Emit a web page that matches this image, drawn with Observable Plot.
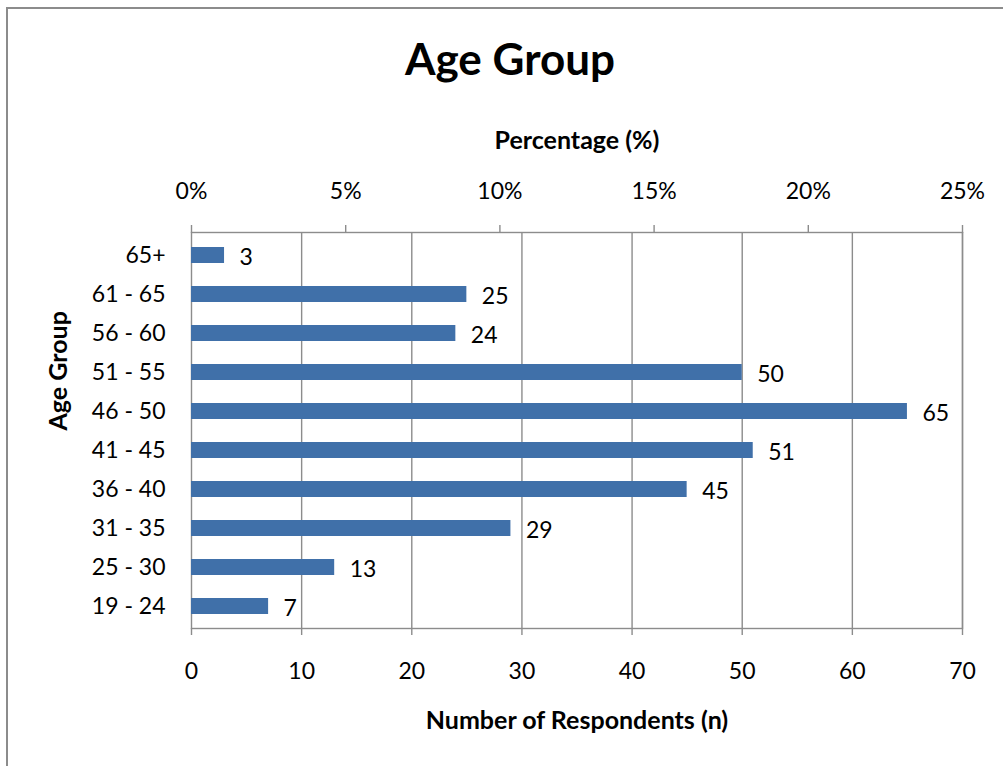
<!DOCTYPE html>
<html>
<head>
<meta charset="utf-8">
<script src="https://cdn.jsdelivr.net/npm/d3@7"></script>
<script src="https://cdn.jsdelivr.net/npm/@observablehq/plot@0.6"></script>
<style>
  html, body { margin: 0; padding: 0; background: #fff; }
  body { width: 1003px; height: 766px; position: relative; overflow: hidden; font-family: Lato, "Open Sans", sans-serif; }
  #border { position: absolute; left: 6px; top: 7px; right: -10px; bottom: -10px; border-left: 2px solid #8c8c8c; border-top: 2px solid #8c8c8c; }
  #title { position: absolute; left: 0; width: 1020px; top: 36px; text-align: center; font-weight: bold; font-size: 44px; color: #000; line-height: 1; }
  #chart { position: absolute; left: 0; top: 100px; }
</style>
</head>
<body>
<div id="border"></div>
<div id="title">Age Group</div>
<div id="chart"></div>
<script>
// Respondents per age group, listed from youngest to oldest
const ageGroups = ["19 - 24", "25 - 30", "31 - 35", "36 - 40", "41 - 45", "46 - 50", "51 - 55", "56 - 60", "61 - 65", "65+"];
const respondents = [7, 13, 29, 45, 51, 65, 50, 24, 25, 3];

// Count axis (bottom) and percentage axis (top) tick values
const countTicks = [0, 10, 20, 30, 40, 50, 60, 70];
const percentTicks = [0, 5, 10, 15, 20, 25];
const countMax = 70;
const percentMax = 25;

const rows = ageGroups.map((g, i) => ({group: g, n: respondents[i]}));
const gridColor = "#8c8c8c";
const barColor = "#4070a9";
const font = "Lato, 'Open Sans', sans-serif";
const tickFont = 23;
const labelFont = 25;

const chart = Plot.plot({
  width: 1003,
  height: 666,
  marginLeft: 191,
  marginRight: 41,
  marginTop: 132,
  marginBottom: 138,
  style: {fontFamily: font, fontSize: `${tickFont}px`, color: "#000", background: "transparent"},
  x: {domain: [0, countMax]},
  y: {domain: ageGroups.slice().reverse(), paddingInner: 0.6, paddingOuter: 0.3},
  marks: [
    Plot.gridX(countTicks.filter(d => d > 0), {stroke: gridColor, strokeOpacity: 1, strokeWidth: 1.4}),
    Plot.frame({stroke: gridColor, strokeWidth: 1.4}),
    Plot.barX(rows, {x: "n", y: "group", fill: barColor}),
    Plot.text(rows, {x: "n", y: "group", text: d => String(d.n), textAnchor: "start", dx: 15, dy: 2, fill: "#000", fontSize: tickFont}),
    Plot.axisX({anchor: "bottom", ticks: countTicks, tickSize: 7, tickPadding: 27, label: null, stroke: gridColor, strokeWidth: 1.4, fontSize: tickFont}),
    Plot.axisX({anchor: "top", ticks: percentTicks.map(p => p * countMax / percentMax), tickFormat: d => `${Math.round(d * percentMax / countMax)}%`, tickSize: 8, tickPadding: 26, label: null, stroke: gridColor, strokeWidth: 1.4, fontSize: tickFont}),
    Plot.axisY({tickSize: 0, tickPadding: 26, label: null, fontSize: tickFont}),
    Plot.ruleX([0], {y1: 0, y2: 0, insetBottom: -7, stroke: gridColor, strokeWidth: 1.4}),
    Plot.text(["Percentage (%)"], {frameAnchor: "top", dy: -101, fontWeight: "bold", fontSize: labelFont, fill: "#000"}),
    Plot.text(["Number of Respondents (n)"], {frameAnchor: "bottom", dy: 100, fontWeight: "bold", fontSize: labelFont, fill: "#000"}),
    Plot.text(["Age Group"], {frameAnchor: "left", dx: -133, rotate: -90, fontWeight: "bold", fontSize: labelFont, fill: "#000"})
  ]
});

document.getElementById("chart").appendChild(chart);
</script>
</body>
</html>
